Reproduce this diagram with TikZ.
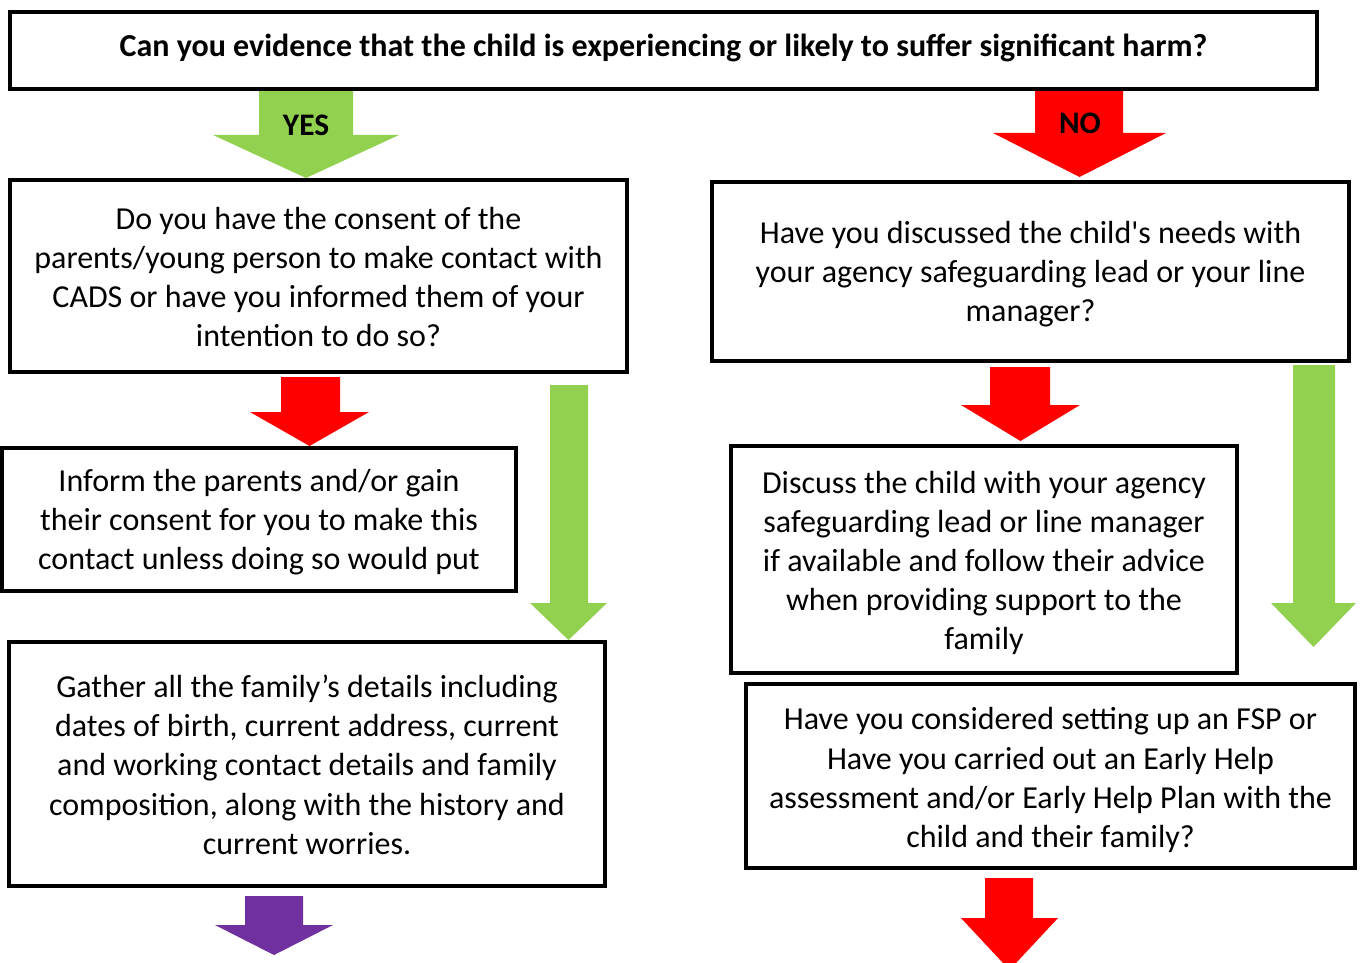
\documentclass[tikz,border=0pt]{standalone}
\usepackage{fontspec}
\setmainfont{Carlito}
\definecolor{agreen}{HTML}{92D050}
\definecolor{ared}{HTML}{FF0000}
\definecolor{apurple}{HTML}{7030A0}
\newcommand{\blockarrow}[8]{% colour, shaftL, shaftR, top, headY, headL, headR, tipY
  \fill[#1] (#2,#4) -- (#3,#4) -- (#3,#5) -- (#7,#5) -- ({(#6+#7)/2},#8) -- (#6,#5) -- (#2,#5) -- cycle;}
\begin{document}
\begin{tikzpicture}[x=0.75pt,y=-0.75pt,
  box/.style={draw=black,line width=2.6pt,fill=white,inner sep=0pt},
  txt/.style={align=center,inner sep=0pt,font=\fontsize{24}{29.3}\selectfont},
  lbl/.style={font=\bfseries\fontsize{23.5}{26}\selectfont}]
\useasboundingbox (0,0) rectangle (1360,963);
% arrows
\blockarrow{agreen}{259}{353}{90}{135}{213}{399}{178}
\node[lbl] (yes) at (306,125) {YES};
\blockarrow{ared}{1035}{1123}{89}{133}{993}{1166}{177}
\node[lbl] (no) at (1080,123) {NO};
\blockarrow{ared}{281}{340}{377}{412}{250}{369}{446}
\blockarrow{agreen}{550}{588}{385}{603}{530}{607}{640}
\blockarrow{apurple}{245}{303}{896}{925}{215}{333}{955}
\blockarrow{ared}{990}{1050}{367}{405}{961}{1080}{441}
\blockarrow{agreen}{1293}{1335}{365}{603}{1271}{1356}{647}
\blockarrow{ared}{985}{1033}{878}{918}{961}{1058}{970}
% boxes
\node[box,minimum width=1307*0.75pt,minimum height=77*0.75pt] (top) at (663.5,50.5) {};
\node[txt,font=\bfseries\fontsize{24}{28}\selectfont] (toptxt) at ([yshift=2.2pt]top.center)
  {Can you evidence that the child is experiencing or likely to suffer significant harm?};
\node[box,minimum width=617*0.75pt,minimum height=192*0.75pt] (a) at (318.5,276) {};
\node[txt] (atxt) at ([yshift=-1pt]a.center)
  {Do you have the consent of the\\parents/young person to make contact with\\CADS or have you informed them of your\\intention to do so?};
\node[box,minimum width=637*0.75pt,minimum height=179*0.75pt] (b) at (1030.5,271.5) {};
\node[txt] (btxt) at ([yshift=-2.2pt]b.center)
  {Have you discussed the child\textquotesingle s needs with\\your agency safeguarding lead or your line\\manager?};
\node[box,minimum width=514*0.75pt,minimum height=143*0.75pt] (c) at (259,519.5) {};
\node[txt] (ctxt) at ([yshift=-2.2pt]c.center)
  {Inform the parents and/or gain\\their consent for you to make this\\contact unless doing so would put};
\node[box,minimum width=596*0.75pt,minimum height=244*0.75pt] (d) at (307,764) {};
\node[txt] (dtxt) at ([yshift=-0.6pt]d.center)
  {Gather all the family’s details including\\dates of birth, current address, current\\and working contact details and family\\composition, along with the history and\\current worries.};
\node[box,minimum width=506*0.75pt,minimum height=227*0.75pt] (e) at (984,559.5) {};
\node[txt] (etxt) at ([yshift=-2.6pt]e.center)
  {Discuss the child with your agency\\safeguarding lead or line manager\\if available and follow their advice\\when providing support to the\\family};
\node[box,minimum width=609*0.75pt,minimum height=184*0.75pt] (f) at (1050.5,776) {};
\node[txt] (ftxt) at ([yshift=-3pt]f.center)
  {Have you considered setting up an FSP or\\Have you carried out an Early Help\\assessment and/or Early Help Plan with the\\child and their family?};
\end{tikzpicture}
\end{document}
